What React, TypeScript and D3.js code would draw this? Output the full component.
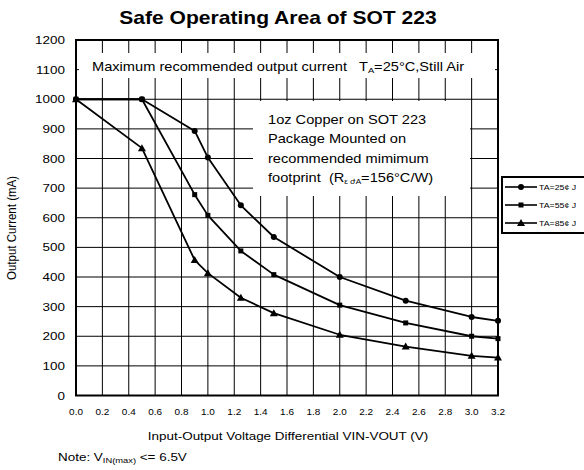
import React from 'react';
import * as d3 from 'd3';

// voltage differential (V) sampled for every curve
const voltages = [0, 0.5, 0.9, 1.0, 1.25, 1.5, 2.0, 2.5, 3.0, 3.2];
// output current (mA) per ambient temperature
const ta25 = [1000, 1000, 893, 803, 642, 535, 400, 320, 265, 252];
const ta55 = [1000, 1000, 678, 608, 488, 408, 305, 245, 200, 192];
const ta85 = [1000, 835, 457, 413, 330, 278, 205, 165, 134, 128];

const seriesNames = ['TA=25¢ J', 'TA=55¢ J', 'TA=85¢ J'];
const xTicks = [0, 0.2, 0.4, 0.6, 0.8, 1.0, 1.2, 1.4, 1.6, 1.8, 2.0, 2.2, 2.4, 2.6, 2.8, 3.0, 3.2];
const yTicks = [0, 100, 200, 300, 400, 500, 600, 700, 800, 900, 1000, 1100, 1200];
const boxLines = ['1oz Copper on SOT 223', 'Package Mounted on', 'recommended mimimum'];

const W = 584, H = 470;
const plot = { l: 76, r: 498, t: 40, b: 395.5 };
const FONT = '"Liberation Sans", Arial, sans-serif';
const SX = 1.17; // the source picture is stretched horizontally

// stretched text helper
const T = ({ x, y, size, anchor = 'start', weight = 'normal', children }: any) => (
  <text
    transform={`translate(${x},${y}) scale(${SX},1)`}
    fontSize={size}
    fontFamily={FONT}
    fontWeight={weight}
    textAnchor={anchor}
    fill="#000"
    style={{ whiteSpace: 'pre' }}
  >
    {children}
  </text>
);

const Marker = ({ kind, x, y }: { kind: number; x: number; y: number }) => {
  if (kind === 0) return <circle cx={x} cy={y} r={3} fill="#000" />;
  if (kind === 1) return <rect x={x - 2.5} y={y - 2.5} width={5} height={5} fill="#000" />;
  return <path d={`M${x},${y - 4}L${x + 4},${y + 3}L${x - 4},${y + 3}Z`} fill="#000" />;
};

export default function App() {
  const x = d3.scaleLinear().domain([0, 3.2]).range([plot.l, plot.r]);
  const y = d3.scaleLinear().domain([0, 1200]).range([plot.b, plot.t]);
  const series = [ta25, ta55, ta85];
  const line = d3.line<number>()
    .x((_, i) => x(voltages[i]))
    .y(d => y(d));

  return (
    <svg width={W} height={H} style={{ position: 'absolute', left: 0, top: 0, background: '#fff' }}>
      <rect width={W} height={H} fill="#fff" />

      {/* title */}
      <T x={278} y={24} size={18} anchor="middle" weight="bold">Safe Operating Area of SOT 223</T>

      {/* grid */}
      <g stroke="#000" strokeWidth={1}>
        {xTicks.slice(1, -1).map(t => (
          <line key={'gx' + t} x1={x(t)} x2={x(t)} y1={plot.t} y2={plot.b} />
        ))}
        {yTicks.slice(1, -1).map(t => (
          <line key={'gy' + t} x1={plot.l} x2={plot.r} y1={y(t)} y2={y(t)} />
        ))}
      </g>

      {/* annotation boxes hide the grid */}
      <rect x={79} y={53} width={416} height={25} fill="#fff" />
      <T x={92} y={71} size={12.5}>
        {'Maximum recommended output current   T'}<tspan fontSize={8} dy={2}>A</tspan><tspan dy={-2}>=25°C,Still Air</tspan>
      </T>

      <rect x={253} y={101} width={217} height={95} fill="#fff" />
      {boxLines.map((s, i) => (
        <T key={s} x={268} y={123.5 + i * 19.5} size={12.5}>{s}</T>
      ))}
      <T x={268} y={182} size={12.5}>
        {'footprint  (R'}<tspan fontSize={7} dy={2}>ε ժA</tspan><tspan dy={-2}>=156°C/W)</tspan>
      </T>

      {/* frame */}
      <rect x={plot.l} y={plot.t} width={plot.r - plot.l} height={plot.b - plot.t} fill="none" stroke="#000" strokeWidth={2} />

      {/* curves */}
      {series.map((s, k) => (
        <g key={k}>
          <path d={line(s) || ''} fill="none" stroke="#000" strokeWidth={1.8} strokeLinejoin="round" />
          {s.map((v, i) => <Marker key={i} kind={k} x={x(voltages[i])} y={y(v)} />)}
        </g>
      ))}

      {/* y axis labels */}
      {yTicks.map(t => (
        <T key={'yl' + t} x={65} y={y(t) + 4} size={11.5} anchor="end">{t}</T>
      ))}
      <text
        transform={`translate(16,228) rotate(-90) scale(1,${SX})`}
        fontSize={11.5}
        fontFamily={FONT}
        textAnchor="middle"
      >
        Output Current (mA)
      </text>

      {/* x axis labels */}
      {xTicks.map(t => (
        <T key={'xl' + t} x={x(t)} y={415} size={8.5} anchor="middle">{t.toFixed(1)}</T>
      ))}
      <T x={288} y={440} size={11.5} anchor="middle">Input-Output Voltage Differential VIN-VOUT (V)</T>
      <T x={58} y={461} size={11.5}>
        {'Note: V'}<tspan fontSize={8} dy={2}>IN(max)</tspan><tspan dy={-2}>{' <= 6.5V'}</tspan>
      </T>

      {/* legend */}
      <rect x={502} y={177} width={100} height={56} fill="#fff" stroke="#000" strokeWidth={2} />
      {seriesNames.map((n, k) => (
        <g key={n}>
          <line x1={505} x2={537} y1={187 + k * 18} y2={187 + k * 18} stroke="#000" strokeWidth={1.6} />
          <Marker kind={k} x={521} y={187 + k * 18} />
          <T x={539} y={190 + k * 18} size={7.5}>{n}</T>
        </g>
      ))}
    </svg>
  );
}
